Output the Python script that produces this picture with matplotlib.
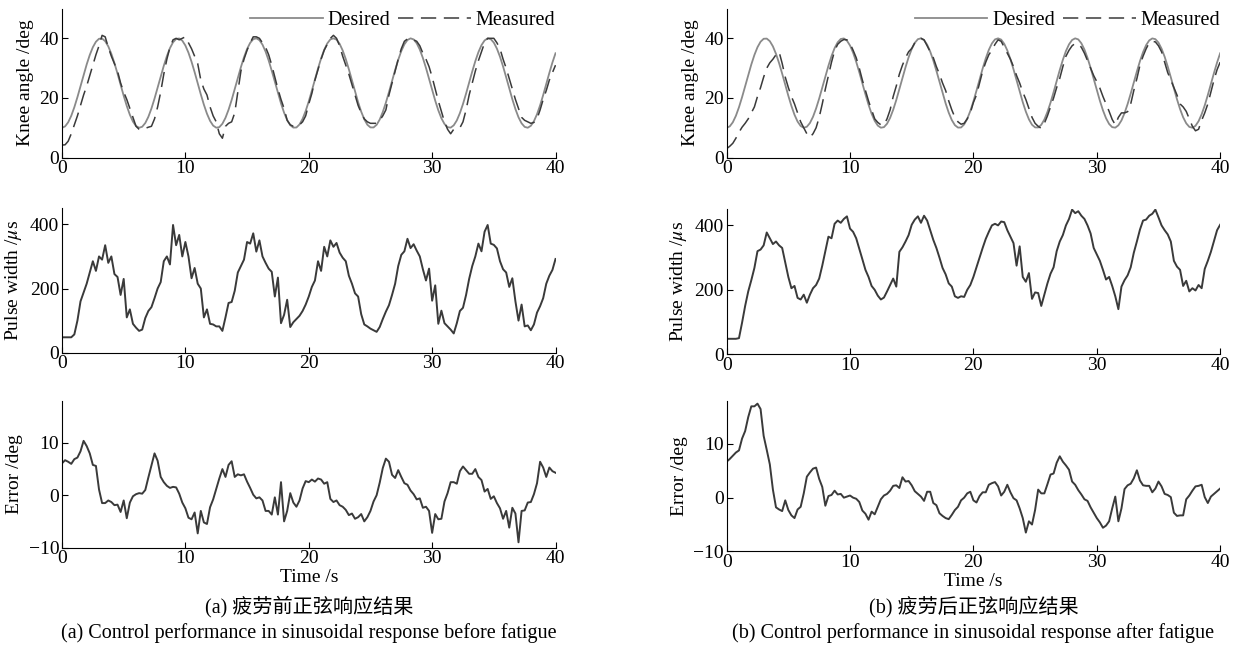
import numpy as np
import matplotlib
matplotlib.use('Agg')
import matplotlib.pyplot as plt

plt.rcParams['font.family'] = ['Liberation Serif', 'Noto Sans CJK SC']
plt.rcParams['mathtext.fontset'] = 'stix'
plt.rcParams['font.size'] = 14

# sampling times (s), 0.25 s grid
t = np.arange(161) * 0.25

# desired knee angle (deg), same reference in both tests
desired = [
    10.0, 10.47, 11.84, 14.02, 16.90, 20.27, 23.94, 27.67,
    31.24, 34.42, 37.02, 38.86, 39.85, 39.91, 39.05, 37.31,
    34.80, 31.69, 28.16, 24.44, 20.74, 17.32, 14.37, 12.08,
    10.60, 10.01, 10.35, 11.60, 13.68, 16.48, 19.80, 23.44,
    27.18, 30.79, 34.03, 36.72, 38.67, 39.78, 39.96, 39.22,
    37.59, 35.18, 32.14, 28.65, 24.94, 21.22, 17.75, 14.72,
    12.33, 10.74, 10.03, 10.22, 11.36, 13.34, 16.06, 19.32,
    22.95, 26.69, 30.33, 33.65, 36.42, 38.48, 39.71, 39.99,
    39.40, 37.88, 35.55, 32.58, 29.13, 25.44, 21.69, 18.18,
    15.07, 12.59, 10.88, 10.07, 10.10, 11.12, 13.00, 15.64,
    18.85, 22.45, 26.20, 29.88, 33.26, 36.13, 38.29, 39.64,
    39.99, 39.57, 38.16, 35.93, 33.03, 29.62, 25.93, 22.17,
    18.60, 15.42, 12.84, 11.02, 10.13, 10.11, 11.00, 12.76,
    15.30, 18.42, 21.96, 25.69, 29.38, 32.79, 35.73, 37.98,
    39.44, 39.99, 39.63, 38.34, 36.23, 33.41, 30.08, 26.43,
    22.69, 19.10, 15.86, 13.20, 11.28, 10.21, 10.05, 10.83,
    12.47, 14.92, 17.98, 21.47, 25.18, 28.89, 32.35, 35.36,
    37.72, 39.29, 39.97, 39.72, 38.56, 36.54, 33.83, 30.55,
    26.94, 23.19, 19.57, 16.28, 13.52, 11.50, 10.30, 10.02,
    10.67, 12.21, 14.55, 17.52, 20.98, 24.68, 28.40, 31.91,
    34.99]

# measured knee angle (deg), before fatigue
measured_a = [
    4.2, 4.3, 5.5, 8.0, 11.0, 14.0, 17.5, 21.0,
    24.0, 27.5, 31.0, 34.5, 37.5, 41.0, 40.5, 37.0,
    34.0, 31.5, 29.0, 25.0, 22.0, 19.5, 16.5, 13.5,
    10.5, 9.5, 9.5, 9.8, 10.2, 10.5, 13.0, 17.0,
    22.0, 28.0, 33.0, 37.0, 39.5, 40.0, 39.5, 40.0,
    40.5, 38.5, 36.5, 34.0, 31.5, 26.0, 23.0, 21.0,
    17.0, 14.0, 12.0, 8.0, 6.5, 10.5, 11.5, 12.0,
    15.0, 22.0, 29.0, 33.0, 36.0, 38.5, 40.5, 40.5,
    40.0, 38.5, 37.0, 34.5, 31.0, 27.0, 23.0, 19.5,
    16.5, 12.5, 11.0, 10.5, 10.5, 11.0, 12.0, 14.0,
    18.0, 21.5, 26.0, 29.5, 33.0, 36.0, 38.0, 40.0,
    41.0, 40.0, 37.5, 34.0, 31.0, 28.0, 24.5, 21.0,
    17.5, 15.0, 13.0, 12.0, 11.5, 11.5, 11.5, 12.5,
    14.0, 16.0, 21.0, 25.0, 29.0, 33.0, 36.5, 39.0,
    39.8, 40.0, 39.5, 39.0, 37.5, 35.0, 33.0, 30.5,
    27.0, 23.0, 19.0, 15.5, 12.0, 9.5, 8.0, 9.5,
    9.8, 10.0, 12.0, 16.0, 21.0, 25.0, 29.0, 32.5,
    35.5, 38.5, 40.0, 40.0, 40.0, 38.5, 36.5, 33.0,
    30.0, 26.5, 23.0, 19.5, 16.5, 13.5, 12.5, 12.0,
    11.5, 11.8, 13.0, 16.0, 19.5, 22.5, 26.0, 28.5,
    31.0]

# measured knee angle (deg), after fatigue
measured_b = [
    3.0, 3.8, 4.8, 6.5, 8.5, 10.2, 11.5, 13.0,
    15.0, 17.0, 20.5, 23.5, 27.0, 30.0, 31.8, 33.0,
    34.5, 35.5, 31.6, 27.0, 23.5, 20.5, 18.0, 15.0,
    12.0, 10.0, 8.0, 6.8, 8.0, 10.0, 13.5, 18.0,
    23.0, 27.5, 32.0, 35.8, 38.0, 39.0, 39.6, 39.5,
    38.3, 36.0, 33.5, 30.0, 26.0, 22.5, 19.0, 16.0,
    13.0, 11.8, 11.0, 11.0, 13.0, 16.0, 20.5, 24.0,
    28.0, 31.0, 33.5, 35.5, 36.6, 38.5, 39.5, 40.0,
    39.5, 37.5, 35.5, 33.5, 30.5, 28.0, 25.0, 22.5,
    19.0, 16.0, 13.5, 12.0, 11.2, 11.5, 13.0, 15.0,
    18.5, 21.0, 25.0, 29.0, 32.0, 34.5, 36.0, 38.0,
    39.5, 39.0, 37.0, 35.0, 33.0, 30.5, 27.5, 25.0,
    22.0, 19.5, 16.5, 13.5, 11.5, 10.5, 9.8, 11.5,
    14.0, 17.0, 20.0, 23.5, 26.6, 30.5, 34.0, 36.0,
    37.5, 38.3, 38.0, 37.0, 35.0, 32.5, 30.0, 27.5,
    25.5, 23.3, 20.5, 18.0, 15.5, 12.8, 11.0, 13.5,
    15.0, 15.0, 15.4, 18.0, 22.5, 26.5, 31.0, 34.0,
    36.5, 38.5, 39.0, 38.8, 37.5, 35.5, 32.0, 28.5,
    26.0, 23.5, 21.0, 18.0, 17.0, 15.5, 13.0, 10.5,
    9.0, 9.5, 12.5, 15.0, 18.0, 22.0, 26.0, 29.5,
    32.0]

# stimulation pulse width (us)
pulse_a = [
    48, 48, 48, 48, 57, 100, 160, 188,
    215, 250, 285, 255, 300, 290, 335, 280,
    300, 245, 236, 180, 230, 110, 135, 90,
    78, 68, 72, 108, 130, 142, 170, 200,
    220, 285, 300, 275, 398, 335, 367, 300,
    345, 300, 232, 264, 215, 200, 110, 135,
    90, 88, 82, 82, 68, 110, 155, 158,
    193, 250, 270, 290, 345, 340, 372, 315,
    350, 300, 280, 262, 252, 175, 234, 92,
    118, 165, 80, 95, 105, 115, 130, 150,
    175, 205, 225, 285, 255, 330, 300, 350,
    330, 342, 312, 296, 285, 240, 215, 185,
    175, 120, 88, 82, 75, 70, 65, 80,
    105, 128, 148, 180, 215, 270, 305, 316,
    355, 326, 338, 318, 300, 260, 225, 262,
    162, 210, 90, 131, 92, 82, 72, 60,
    92, 130, 140, 180, 230, 270, 300, 340,
    316, 377, 398, 340, 336, 325, 285, 260,
    250, 205, 232, 160, 100, 150, 82, 85,
    70, 88, 125, 145, 170, 215, 240, 258,
    292]

pulse_b = [
    48, 48, 48, 48, 50, 98, 150, 195,
    230, 268, 320, 325, 338, 378, 360, 342,
    350, 338, 330, 285, 240, 205, 212, 175,
    170, 185, 160, 185, 205, 215, 235, 275,
    320, 365, 360, 405, 415, 408, 420, 428,
    390, 380, 360, 328, 295, 262, 240, 212,
    200, 182, 170, 176, 195, 215, 235, 210,
    318, 332, 350, 370, 402, 418, 428, 408,
    430, 415, 385, 355, 330, 300, 268, 248,
    220, 210, 180, 175, 180, 178, 200, 215,
    240, 270, 300, 330, 358, 380, 400, 405,
    400, 412, 410, 385, 365, 345, 275, 335,
    240, 225, 252, 172, 192, 190, 150, 185,
    220, 250, 270, 320, 350, 370, 400, 420,
    449, 438, 444, 430, 420, 400, 375, 330,
    310, 290, 262, 232, 240, 212, 180, 140,
    210, 230, 245, 270, 315, 350, 387, 415,
    418, 430, 436, 449, 425, 400, 385, 372,
    350, 290, 272, 262, 212, 228, 195, 205,
    198, 215, 205, 265, 290, 318, 352, 385,
    402]

# tracking error (deg)
error_a = [
    6.1, 6.7, 6.4, 6.0, 6.9, 7.2, 8.4, 10.4,
    9.4, 8.0, 5.8, 5.6, 1.1, -1.5, -1.5, -1.0,
    -1.3, -1.9, -1.8, -3.2, -1.0, -4.4, -1.4, -0.2,
    0.2, 0.4, 0.3, 1.0, 3.4, 5.7, 8.0, 6.6,
    3.5, 2.5, 1.8, 1.4, 1.6, 1.5, 0.3, -1.4,
    -2.5, -4.3, -4.6, -3.3, -7.3, -3.0, -5.2, -5.5,
    -2.3, -0.8, 1.2, 3.2, 5.0, 3.5, 5.8, 6.5,
    3.5, 4.0, 3.8, 4.0, 2.6, 1.4, 0.1, -0.6,
    -0.4, -1.0, -3.0, -3.0, -3.7, -0.4, -3.7, 2.5,
    -5.0, -3.0, 0.4, -1.4, -2.2, -1.0, 1.3, 2.7,
    2.5, 3.0, 2.6, 3.2, 3.0, 2.2, 2.5, -0.7,
    -1.3, -1.0, -1.9, -2.2, -2.8, -3.8, -3.5, -4.5,
    -4.2, -3.6, -5.0, -4.2, -3.0, -1.2, 0.0, 2.4,
    5.2, 7.0, 6.4, 3.9, 3.3, 4.8, 3.5, 2.3,
    2.0, 0.9, 0.2, -0.8, -0.6, -2.4, -2.2, -3.0,
    -7.2, -3.6, -4.6, -4.5, -1.2, 0.4, 2.5, 2.5,
    2.2, 4.6, 5.5, 4.8, 4.1, 4.1, 5.0, 3.5,
    2.9, 0.7, 1.2, -0.7, -0.2, -1.5, -2.5, -4.5,
    -3.0, -6.2, -2.4, -3.5, -9.0, -3.0, -2.9, -1.4,
    -1.3, 0.2, 2.3, 6.4, 5.3, 3.5, 5.3, 4.6,
    4.3]

error_b = [
    6.7, 7.2, 7.8, 8.4, 8.8, 11.0, 12.4, 15.0,
    17.0, 17.0, 17.5, 16.5, 11.5, 8.9, 6.2, 1.5,
    -1.8, -2.2, -2.5, -0.5, -2.3, -3.3, -3.8, -2.2,
    -1.7, 0.8, 3.9, 4.7, 5.4, 5.6, 3.5, 2.0,
    -1.5, 0.3, 0.5, 1.3, 0.6, 0.7, 0.0, 0.2,
    0.4, 0.0, -0.2, -0.8, -2.4, -3.0, -4.1, -2.6,
    -3.1, -1.7, -0.3, 0.4, 0.7, 1.3, 2.2, 2.3,
    1.8, 3.8, 3.0, 3.1, 2.3, 1.2, 0.7, 0.2,
    -0.6, 1.1, 1.1, -1.0, -1.4, -2.9, -3.4, -3.8,
    -4.0, -3.2, -2.3, -1.7, -0.5, 0.0, 0.8, 1.1,
    -0.5, -0.9, 0.3, 1.0, 1.0, 2.4, 2.7, 2.9,
    2.1, 0.4, 1.1, 2.4, 1.0, -0.1, -0.5, -2.0,
    -3.8, -6.5, -4.4, -5.0, -2.3, 1.5, 0.8, 0.8,
    2.5, 4.3, 4.5, 6.5, 7.7, 6.7, 6.0, 5.2,
    3.0, 2.4, 1.4, 0.6, -0.3, -0.6, -1.8, -2.8,
    -3.8, -4.6, -5.6, -5.2, -4.4, -2.0, 0.2, -4.4,
    -2.0, 1.6, 2.3, 2.6, 3.6, 5.1, 3.2, 2.3,
    2.2, 2.2, 1.0, 1.7, 3.0, 2.1, 0.7, 0.5,
    0.1, -2.8, -3.4, -3.3, -3.3, -0.3, 0.4, 1.3,
    2.1, 2.2, 2.4, 0.1, -1.0, 0.2, 0.7, 1.2,
    1.7]

captions = {
    'a': ('(a) 疲劳前正弦响应结果',
          '(a) Control performance in sinusoidal response before fatigue'),
    'b': ('(b) 疲劳后正弦响应结果',
          '(b) Control performance in sinusoidal response after fatigue'),
}

DES_COLOR = '#8a8a8a'
LINE_COLOR = '#3a3a3a'


def style_axes(ax):
    for side in ('top', 'right'):
        ax.spines[side].set_visible(False)
    for side in ('left', 'bottom'):
        ax.spines[side].set_linewidth(0.8)
    ax.tick_params(direction='in', length=4, width=0.8, labelsize=14, pad=2)
    ax.set_xlim(0, 40)
    ax.set_xticks([0, 10, 20, 30, 40])


def draw_column(fig, left, rows, measured, pulse, error, key):
    width = 0.398
    (b1, h1), (b2, h2), (b3, h3) = rows

    ax1 = fig.add_axes([left, b1, width, h1])
    ax1.plot(t, desired, color=DES_COLOR, lw=1.3, label='Desired')
    ax1.plot(t, measured, color=LINE_COLOR, lw=1.1, ls=(0, (10, 5)),
             label='Measured')
    ax1.set_ylim(0, 50)
    ax1.set_yticks([0, 20, 40])
    ax1.set_ylabel('Knee angle /deg', labelpad=4)
    style_axes(ax1)
    ax1.legend(loc='upper right', ncol=2, frameon=False, fontsize=14.5,
               handlelength=3.6, handletextpad=0.25, columnspacing=0.4,
               borderpad=0, borderaxespad=0.0, bbox_to_anchor=(1.0, 0.985))

    ax2 = fig.add_axes([left, b2, width, h2])
    ax2.plot(t, pulse, color=LINE_COLOR, lw=1.4)
    ax2.set_ylim(0, 450)
    ax2.set_yticks([0, 200, 400])
    ax2.set_ylabel(r'Pulse width /$\mu$s', labelpad=4)
    style_axes(ax2)

    ax3 = fig.add_axes([left, b3, width, h3])
    ax3.plot(t, error, color=LINE_COLOR, lw=1.4)
    ax3.set_ylim(-10, 18)
    ax3.set_yticks([-10, 0, 10])
    ax3.set_ylabel('Error /deg', labelpad=4)
    ax3.set_xlabel('Time /s', labelpad=1)
    style_axes(ax3)

    cx = left + width / 2
    fig.text(cx, 0.072, captions[key][0], ha='center', va='center',
             fontsize=14.5)
    fig.text(cx, 0.032, captions[key][1], ha='center', va='center',
             fontsize=14.5)


fig = plt.figure(figsize=(12.4, 6.54), dpi=100)

rows_a = [(0.759, 0.228), (0.4607, 0.2208), (0.1628, 0.2239)]
rows_b = [(0.759, 0.228), (0.4583, 0.2217), (0.1569, 0.2300)]
draw_column(fig, 0.050, rows_a, measured_a, pulse_a, error_a, 'a')
draw_column(fig, 0.586, rows_b, measured_b, pulse_b, error_b, 'b')

fig.savefig('out.png', dpi=100)
